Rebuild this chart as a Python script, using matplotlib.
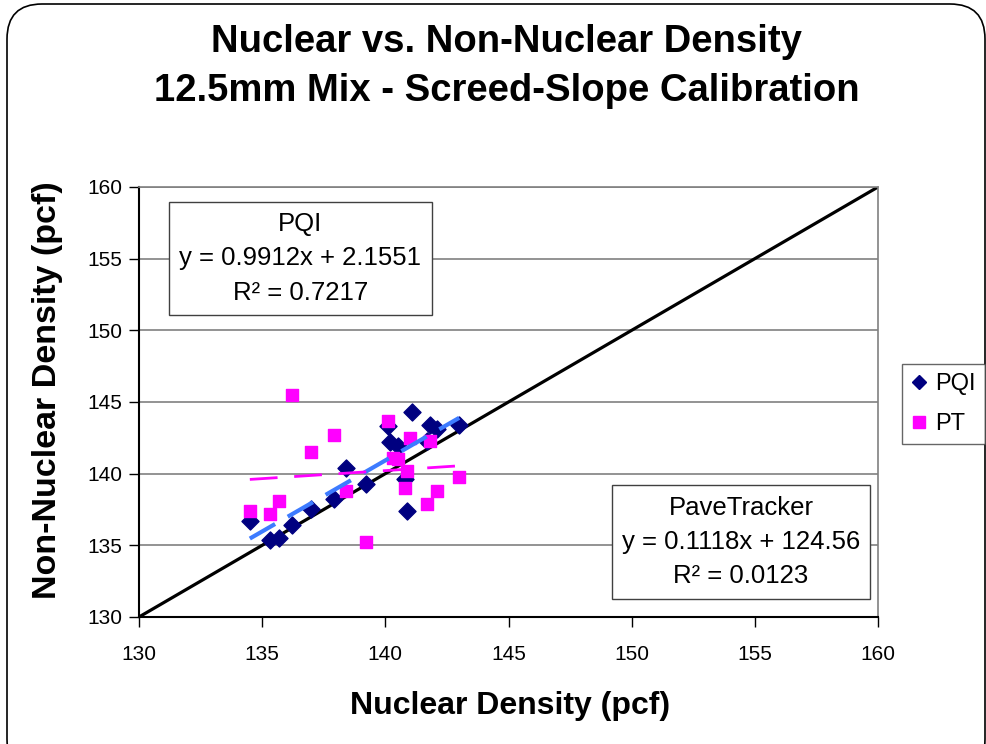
import matplotlib
matplotlib.use("Agg")
import matplotlib.pyplot as plt
from matplotlib.patches import FancyBboxPatch
from matplotlib.lines import Line2D
import numpy as np

plt.rcParams['font.family'] = ['Liberation Sans', 'DejaVu Sans']

# nuclear density (x) for both gauges
nuclear = [134.5, 135.3, 135.7, 136.2, 137.0, 137.9, 138.4, 139.2, 140.1,
           140.2, 140.5, 141.1, 140.8, 140.9, 141.8, 142.1, 143.0, 141.7]
pqi = [136.7, 135.4, 135.5, 136.4, 137.5, 138.2, 140.4, 139.3, 143.3,
       142.2, 141.9, 144.3, 139.6, 137.4, 143.4, 143.1, 143.4, 142.3]

nuclear_pt = [136.2, 137.9, 137.0, 134.5, 135.3, 135.7, 138.4, 139.2, 140.1,
              140.3, 140.5, 140.9, 141.0, 140.8, 141.8, 142.1, 141.7, 143.0]
pt = [145.5, 142.7, 141.5, 137.4, 137.2, 138.1, 138.8, 135.2, 143.7,
      141.1, 141.0, 140.2, 142.5, 139.0, 142.3, 138.8, 137.9, 139.8]

# trendline coefficients (slope, intercept) as printed on the chart
pqi_fit = [0.9912, 2.1551]
pt_fit = [0.1118, 124.56]

fig = plt.figure(figsize=(9.87, 7.44), dpi=100)
ax = fig.add_axes([0.1408, 0.1707, 0.7488, 0.578])

# 1:1 line
ax.plot([130, 160], [130, 160], color='black', lw=2.3, zorder=2)

ax.scatter(nuclear, pqi, marker='D', s=75, color='#000080', zorder=3, label='PQI')
ax.scatter(nuclear_pt, pt, marker='s', s=85, color='#FF00FF', zorder=3, label='PT')

xs = np.array([min(nuclear), max(nuclear)])
ax.plot(xs, pqi_fit[0] * xs + pqi_fit[1], color='#3D7BFF', lw=3,
        dashes=(7, 3.5), zorder=4)
xs2 = np.array([min(nuclear_pt), max(nuclear_pt)])
ax.plot(xs2, pt_fit[0] * xs2 + pt_fit[1], color='#FF00FF', lw=2,
        dashes=(10, 6), zorder=4)

ax.set_xlim(130, 160)
ax.set_ylim(130, 160)
ax.set_xticks(range(130, 161, 5))
ax.set_yticks(range(130, 161, 5))
ax.tick_params(labelsize=15, length=7, width=1, direction='out', pad=13)
ax.tick_params(axis='y', pad=5)
ax.grid(axis='y', color='#808080', lw=1.2)
ax.set_axisbelow(True)
for s in ['left', 'bottom']:
    ax.spines[s].set_linewidth(1.5)
for s in ['top', 'right']:
    ax.spines[s].set_color('#808080')
    ax.spines[s].set_linewidth(1.2)

box = dict(boxstyle='square,pad=0.4', fc='white', ec='#404040', lw=1)
ax.text(0.2185, 0.8337, 'PQI\ny = 0.9912x + 2.1551\nR² = 0.7217', transform=ax.transAxes,
        ha='center', va='center', fontsize=18.5, linespacing=1.55, bbox=box, zorder=5)
ax.text(0.8146, 0.1744, 'PaveTracker\ny = 0.1118x + 124.56\nR² = 0.0123', transform=ax.transAxes,
        ha='center', va='center', fontsize=18.5, linespacing=1.55, bbox=box, zorder=5)

fig.text(0.513, 0.943, 'Nuclear vs. Non-Nuclear Density', ha='center', va='center',
         fontsize=27.5, fontweight='bold')
fig.text(0.513, 0.878, '12.5mm Mix - Screed-Slope Calibration', ha='center', va='center',
         fontsize=27.5, fontweight='bold')
fig.text(0.517, 0.051, 'Nuclear Density (pcf)', ha='center', va='center',
         fontsize=23, fontweight='bold')
fig.text(0.0486, 0.475, 'Non-Nuclear Density (pcf)', ha='center', va='center',
         rotation=90, fontsize=24.5, fontweight='bold')

handles = [Line2D([], [], marker='D', color='#000080', ls='none', markersize=7),
           Line2D([], [], marker='s', color='#FF00FF', ls='none', markersize=8)]
leg = fig.legend(handles, ['PQI', 'PT'], loc='center', bbox_to_anchor=(0.956, 0.457),
                 fontsize=17, frameon=True, fancybox=False, edgecolor='#404040',
                 handlelength=0.6, handletextpad=0.4, borderpad=0.4, labelspacing=0.75)
leg.get_frame().set_linewidth(1)

frame = FancyBboxPatch((0.07, -0.3), 9.78, 7.7, boxstyle='round,pad=0,rounding_size=0.35',
                       transform=fig.dpi_scale_trans, fc='none', ec='black', lw=1.2)
fig.patches.append(frame)

plt.savefig('out.png', dpi=100)
